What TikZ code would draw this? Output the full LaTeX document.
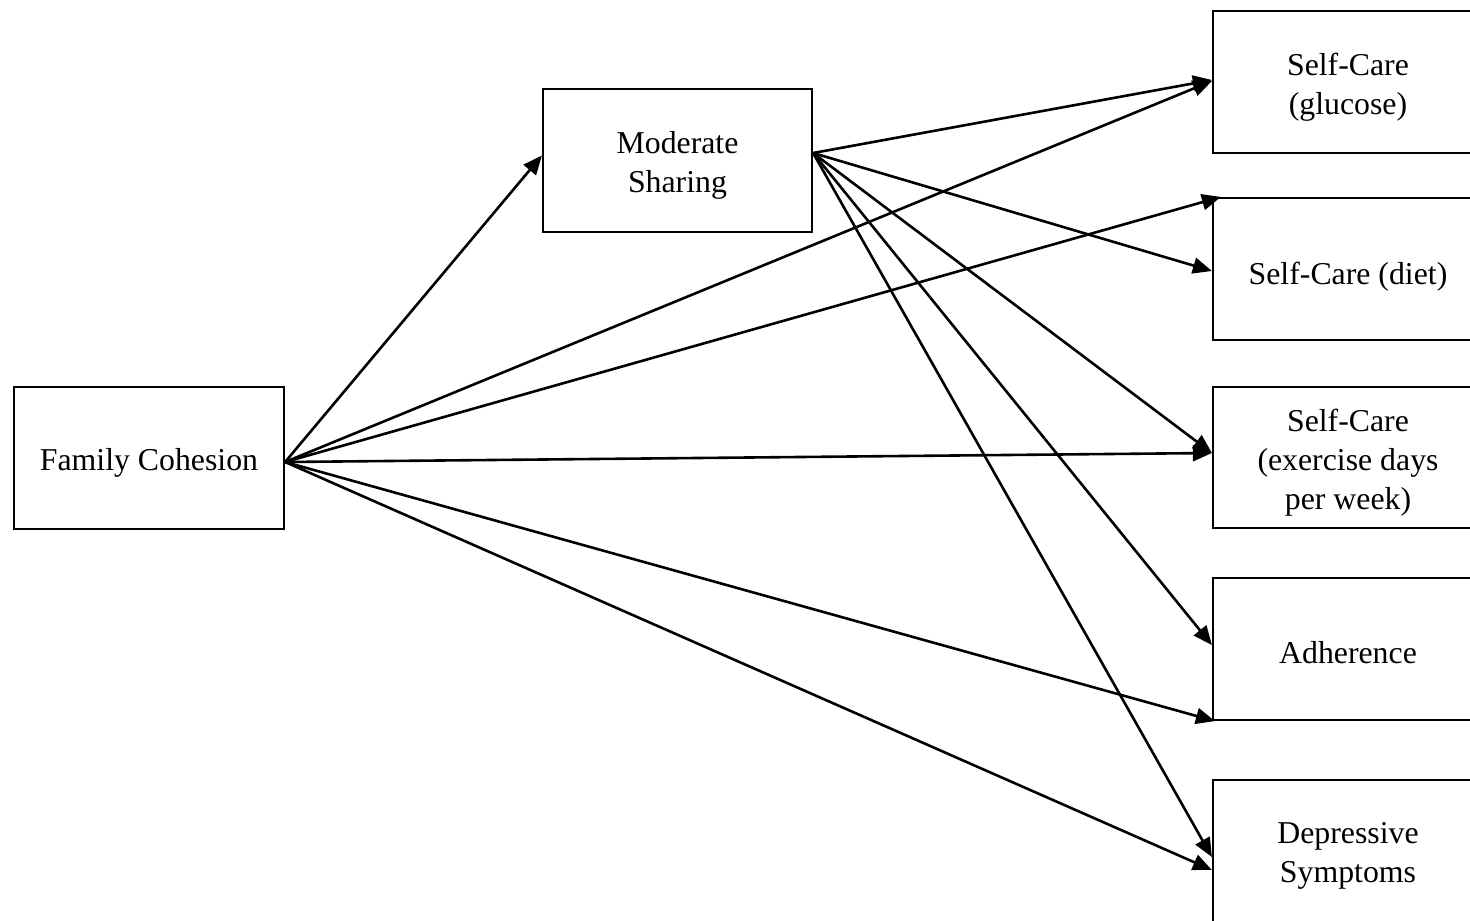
\documentclass[tikz,border=0pt]{standalone}
\usepackage{fontspec}
\setmainfont{Liberation Serif}
\usetikzlibrary{arrows.meta}
\tikzset{
  varbox/.style={draw, line width=2.2pt, rectangle, inner sep=0pt,
    minimum width=270pt, minimum height=142pt},
  txt/.style={align=center, inner sep=0pt, yshift=-5pt,
    font=\fontsize{31.8}{39}\selectfont},
  path/.style={draw, line width=2.6pt, -{Triangle[length=19pt,width=16pt]}}
}
\begin{document}
\begin{tikzpicture}[x=1pt, y=-1pt]
  \useasboundingbox (0,0) rectangle (1470,921);
  \clip (0,0) rectangle (1470,921);

  % predictor and mediator
  \node[varbox, label={[txt]center:{Family Cohesion}}] (fc) at (149,458) {};
  \node[varbox, minimum width=269pt, minimum height=143pt,
        label={[txt]center:{Moderate\\Sharing}}] (ms) at (677.5,160.5) {};

  % outcomes (boxes run off the right edge)
  \node[varbox, label={[txt]center:{Self-Care\\(glucose)}}] (gl) at (1348,82) {};
  \node[varbox, label={[txt, yshift=-3pt]center:{Self-Care (diet)}}] (di) at (1348,269) {};
  \node[varbox, minimum height=141pt,
        label={[txt]center:{Self-Care\\(exercise days\\per week)}}] (ex) at (1348,457.5) {};
  \node[varbox, label={[txt, yshift=1pt]center:{Adherence}}] (ad) at (1348,649) {};
  \node[varbox, label={[txt]center:{Depressive\\Symptoms}}] (dp) at (1348,851) {};

  % paths from family cohesion
  \draw[path] ([yshift=-4pt]fc.east) -- ([yshift=5pt]ms.west);
  \draw[path] ([yshift=-4pt]fc.east) -- ([yshift=1pt]gl.west);
  \draw[path] ([yshift=-4pt]fc.east) -- ([xshift=9pt]di.north west);
  \draw[path] ([yshift=-4pt]fc.east) -- ([yshift=4.5pt]ex.west);
  \draw[path] ([yshift=-4pt]fc.east) -- ([xshift=3pt]ad.south west);
  \draw[path] ([yshift=-4pt]fc.east) -- ([yshift=-19pt]dp.west);

  % paths from moderate sharing
  \draw[path] ([yshift=7.5pt]ms.east) -- ([yshift=2pt]gl.west);
  \draw[path] ([yshift=7.5pt]ms.east) -- ([yshift=-2pt]di.west);
  \draw[path] ([yshift=7.5pt]ms.east) -- ([yshift=4.5pt]ex.west);
  \draw[path] ([yshift=7.5pt]ms.east) -- ([yshift=4pt]ad.west);
  \draw[path] ([yshift=7.5pt]ms.east) -- ([yshift=-6pt]dp.west);
\end{tikzpicture}
\end{document}
